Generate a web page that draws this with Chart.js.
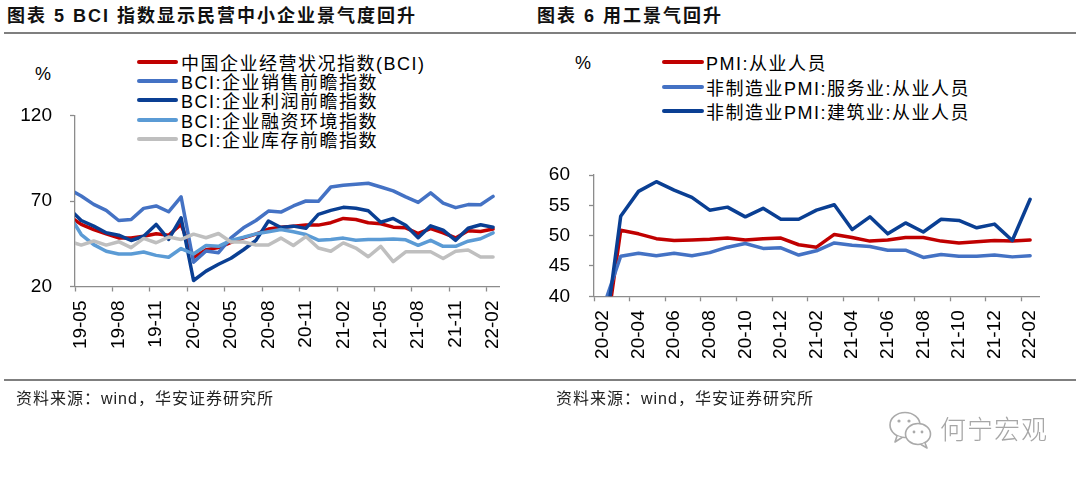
<!DOCTYPE html>
<html>
<head>
<meta charset="utf-8">
<script src="https://cdn.jsdelivr.net/npm/chart.js@4.4.1/dist/chart.umd.min.js"></script>
<style>
  html, body { margin: 0; padding: 0; background: #fff; }
  body { width: 1080px; height: 479px; position: relative; overflow: hidden;
         font-family: "Liberation Sans", Arial, "Noto Sans CJK SC", sans-serif; color: #000; }
  canvas { position: absolute; top: 0; }
  #bciCanvas { left: 0; }
  #jobCanvas { left: 540px; }
  .title { position: absolute; top: 4px; font-weight: bold; font-size: 18px; line-height: 24px;
           letter-spacing: 2px; white-space: nowrap; color: #111; }
  .rule { position: absolute; left: 4px; width: 1072px; height: 2px; background: #7f7f7f; }
  .unit { position: absolute; font-size: 18px; line-height: 20px; }
  .legend { position: absolute; font-size: 18px; letter-spacing: 1.5px; white-space: nowrap; }
  .legend .row { display: flex; align-items: center; }
  .legend .swatch { display: inline-block; height: 4px; border-radius: 2px; }
  .source { position: absolute; top: 389px; font-size: 16px; line-height: 20px; letter-spacing: 1px;
            color: #222; white-space: nowrap; }
  .wx { position: absolute; left: 888px; top: 410px; }
  .brand { position: absolute; left: 940px; top: 415px; font-size: 26px; line-height: 30px;
           color: #a6a6a6; letter-spacing: 1px; font-weight: 300; }
</style>
</head>
<body>
<div class="title" style="left:7px;">图表 5 BCI 指数显示民营中小企业景气度回升</div>
<div class="title" style="left:537px;">图表 6 用工景气回升</div>
<div class="rule" style="top:32px;"></div>

<div class="unit" style="left:35px;top:64px;">%</div>
<div class="unit" style="left:575px;top:53px;">%</div>
<div class="legend" id="bciLegend" style="left:137px;top:52px;"></div>
<div class="legend" id="jobLegend" style="left:662px;top:50px;"></div>

<canvas id="bciCanvas" width="540" height="479"></canvas>
<canvas id="jobCanvas" width="540" height="479"></canvas>

<div class="rule" style="top:379px;"></div>
<div class="source" style="left:16px;">资料来源：wind，华安证券研究所</div>
<div class="source" style="left:556px;">资料来源：wind，华安证券研究所</div>

<svg class="wx" width="46" height="40" viewBox="0 0 46 40">
  <ellipse cx="17" cy="15" rx="15" ry="12.5" fill="none" stroke="#aaa" stroke-width="1.6"/>
  <path d="M9 26 L7 32 L14 27.5" fill="#fff" stroke="#aaa" stroke-width="1.6" stroke-linejoin="round"/>
  <circle cx="11" cy="11" r="1.6" fill="#aaa"/>
  <circle cx="21" cy="11" r="1.6" fill="#aaa"/>
  <ellipse cx="30" cy="24" rx="12.5" ry="10.5" fill="#fff" stroke="#aaa" stroke-width="1.6"/>
  <path d="M37 33 L39 38 L33 34.5" fill="#fff" stroke="#aaa" stroke-width="1.6" stroke-linejoin="round"/>
  <circle cx="26" cy="22" r="1.4" fill="#aaa"/>
  <circle cx="34" cy="22" r="1.4" fill="#aaa"/>
</svg>
<div class="brand">何宁宏观</div>

<script>
// left chart: BCI (first month 19-04 sits just left of the axis and is clipped)
const bciMonths = [
  "19-04", "19-05", "19-06", "19-07", "19-08", "19-09", "19-10", "19-11", "19-12",
  "20-01", "20-02", "20-03", "20-04", "20-05", "20-06", "20-07", "20-08", "20-09", "20-10", "20-11", "20-12",
  "21-01", "21-02", "21-03", "21-04", "21-05", "21-06", "21-07", "21-08", "21-09", "21-10", "21-11", "21-12",
  "22-01", "22-02",
];
const bciTicks = ["19-05", "19-08", "19-11", "20-02", "20-05", "20-08", "20-11", "21-02", "21-05", "21-08", "21-11", "22-02"];
const bciMain = [61.3, 56.3, 53.3, 50.8, 48.4, 48.4, 49.4, 50.8, 50.0, 56.3, 37.0, 41.5, 42.8, 45.8, 48.4, 50.6, 53.6, 54.7, 55.3, 55.9, 55.9, 57.3, 59.8, 59.2, 57.3, 56.7, 54.7, 54.3, 51.0, 53.9, 51.4, 48.4, 52.6, 52.2, 53.6];
const bciSales = [77.1, 72.9, 68.0, 64.5, 58.6, 59.2, 65.7, 67.1, 63.7, 72.4, 34.2, 40.8, 39.8, 48.4, 54.3, 58.6, 64.1, 63.5, 67.1, 70.0, 69.8, 78.2, 79.2, 79.8, 80.4, 78.2, 75.9, 72.4, 69.2, 74.8, 68.8, 66.1, 67.9, 67.8, 72.7];
const bciProfit = [65.8, 58.6, 55.3, 51.4, 50.0, 46.9, 49.4, 56.3, 47.5, 60.2, 23.5, 29.0, 33.0, 36.5, 41.5, 47.0, 58.3, 54.5, 55.3, 54.0, 62.2, 64.5, 66.3, 65.8, 64.3, 57.6, 59.8, 55.8, 48.5, 55.5, 53.0, 47.0, 54.1, 56.1, 54.7];
const bciFinance = [62.2, 50.4, 44.5, 40.6, 39.0, 39.0, 40.2, 38.2, 37.1, 42.2, 39.0, 44.0, 43.5, 47.0, 48.8, 50.8, 52.0, 53.3, 52.0, 50.4, 47.1, 47.5, 48.3, 47.0, 47.5, 47.5, 47.8, 47.3, 44.1, 47.0, 43.5, 43.5, 46.5, 47.9, 51.4];
const bciInventory = [46.5, 44.2, 46.6, 44.2, 46.2, 42.7, 48.1, 45.6, 48.9, 47.5, 50.6, 48.5, 51.0, 46.0, 46.0, 44.3, 44.3, 48.3, 44.0, 49.2, 42.5, 40.6, 45.5, 42.5, 37.4, 43.5, 34.6, 40.3, 40.3, 40.3, 36.4, 40.6, 41.4, 37.2, 37.2];
const bciNames = ["中国企业经营状况指数(BCI)", "BCI:企业销售前瞻指数", "BCI:企业利润前瞻指数", "BCI:企业融资环境指数", "BCI:企业库存前瞻指数"];
const bciColors = ["#c00000", "#4472c4", "#0a3f93", "#5b9bd5", "#bfbfbf"];
const bciYTicks = [20, 70, 120];

// right chart: employment sub-indices (20-02 falls below the 40 floor)
const jobMonths = [
  "20-02", "20-03", "20-04", "20-05", "20-06", "20-07", "20-08", "20-09", "20-10", "20-11", "20-12",
  "21-01", "21-02", "21-03", "21-04", "21-05", "21-06", "21-07", "21-08", "21-09", "21-10", "21-11", "21-12",
  "22-01", "22-02",
];
const jobTicks = ["20-02", "20-04", "20-06", "20-08", "20-10", "20-12", "21-02", "21-04", "21-06", "21-08", "21-10", "21-12", "22-02"];
const pmiEmploy = [30.0, 50.9, 50.3, 49.5, 49.2, 49.3, 49.4, 49.6, 49.3, 49.5, 49.6, 48.5, 48.1, 50.2, 49.7, 49.1, 49.3, 49.7, 49.7, 49.1, 48.8, 49.0, 49.2, 49.1, 49.3];
const serviceEmploy = [38.0, 46.6, 47.1, 46.7, 47.1, 46.7, 47.2, 48.1, 48.7, 47.9, 48.0, 46.8, 47.5, 48.8, 48.4, 48.2, 47.6, 47.6, 46.4, 46.9, 46.6, 46.6, 46.8, 46.5, 46.7];
const buildEmploy = [31.0, 53.2, 57.3, 58.9, 57.5, 56.3, 54.2, 54.7, 53.1, 54.5, 52.7, 52.7, 54.2, 55.1, 51.0, 53.1, 50.3, 52.1, 50.6, 52.7, 52.5, 51.3, 51.9, 49.2, 56.0];
const jobNames = ["PMI:从业人员", "非制造业PMI:服务业:从业人员", "非制造业PMI:建筑业:从业人员"];
const jobColors = ["#c00000", "#4472c4", "#0a3f93"];
const jobYTicks = [40, 45, 50, 55, 60];

const AXIS = "#8c8c8c";
const TICK_FONT = { family: "'Liberation Sans', Arial, sans-serif", size: 19 };

function renderLegend(el, names, colors, rowHeight, swatchWidth, gap) {
  el.innerHTML = names.map((name, i) => `
    <div class="row" style="height:${rowHeight}px">
      <span class="swatch" style="width:${swatchWidth}px;background:${colors[i]};margin-right:${gap}px"></span>${name}
    </div>`).join("");
}

function makeDatasets(series, names, colors) {
  // later series are painted on top, as in the source chart
  return series.map((data, i) => ({
    label: names[i],
    data,
    borderColor: colors[i],
    backgroundColor: colors[i],
    borderWidth: 3.5,
    pointRadius: 0,
    tension: 0,
    borderJoinStyle: "round",
    borderCapStyle: "round",
    clip: 0,
    order: series.length - i,
  }));
}

function renderChart(canvasId, labels, tickLabels, datasets, yTicks, box) {
  const isShown = (v) => tickLabels.includes(labels[v]);
  return new Chart(document.getElementById(canvasId), {
    type: "line",
    data: { labels, datasets },
    options: {
      responsive: false,
      animation: false,
      events: [],
      layout: { padding: { top: box.top, right: box.right, left: 0, bottom: 0 } },
      plugins: { legend: { display: false }, tooltip: { enabled: false } },
      scales: {
        x: {
          type: "category",
          min: tickLabels[0],
          offset: true,
          border: { display: true, color: AXIS, width: 1.3 },
          grid: {
            offset: true,
            drawOnChartArea: false,
            tickLength: 5,
            tickWidth: 1.3,
            tickColor: (ctx) => (ctx.tick && isShown(ctx.tick.value) ? AXIS : "rgba(0,0,0,0)"),
          },
          ticks: {
            autoSkip: false,
            minRotation: 90,
            maxRotation: 90,
            padding: 9,
            color: "#000",
            font: TICK_FONT,
            callback: (v) => (isShown(v) ? labels[v] : ""),
          },
          afterFit: (s) => { s.height = box.xHeight; },
        },
        y: {
          min: yTicks[0],
          max: yTicks[yTicks.length - 1],
          border: { display: true, color: AXIS, width: 1.3 },
          grid: { drawOnChartArea: false, tickLength: 5, tickWidth: 1.3, tickColor: AXIS },
          ticks: {
            stepSize: yTicks[1] - yTicks[0],
            padding: box.yPad,
            color: "#000",
            font: TICK_FONT,
          },
          afterFit: (s) => { s.width = box.yWidth; },
        },
      },
    },
  });
}

renderLegend(document.getElementById("bciLegend"), bciNames, bciColors, 19.3, 41, 3);
renderLegend(document.getElementById("jobLegend"), jobNames, jobColors, 24.5, 42, 2);

renderChart(
  "bciCanvas", bciMonths, bciTicks,
  makeDatasets([bciMain, bciSales, bciProfit, bciFinance, bciInventory], bciNames, bciColors),
  bciYTicks,
  { top: 115.5, right: 40.7, xHeight: 192.5, yWidth: 75, yPad: 18 }
);
renderChart(
  "jobCanvas", jobMonths, jobTicks,
  makeDatasets([pmiEmploy, serviceEmploy, buildEmploy], jobNames, jobColors),
  jobYTicks,
  { top: 175, right: 41, xHeight: 182.7, yWidth: 54, yPad: 19 }
);
</script>
</body>
</html>
